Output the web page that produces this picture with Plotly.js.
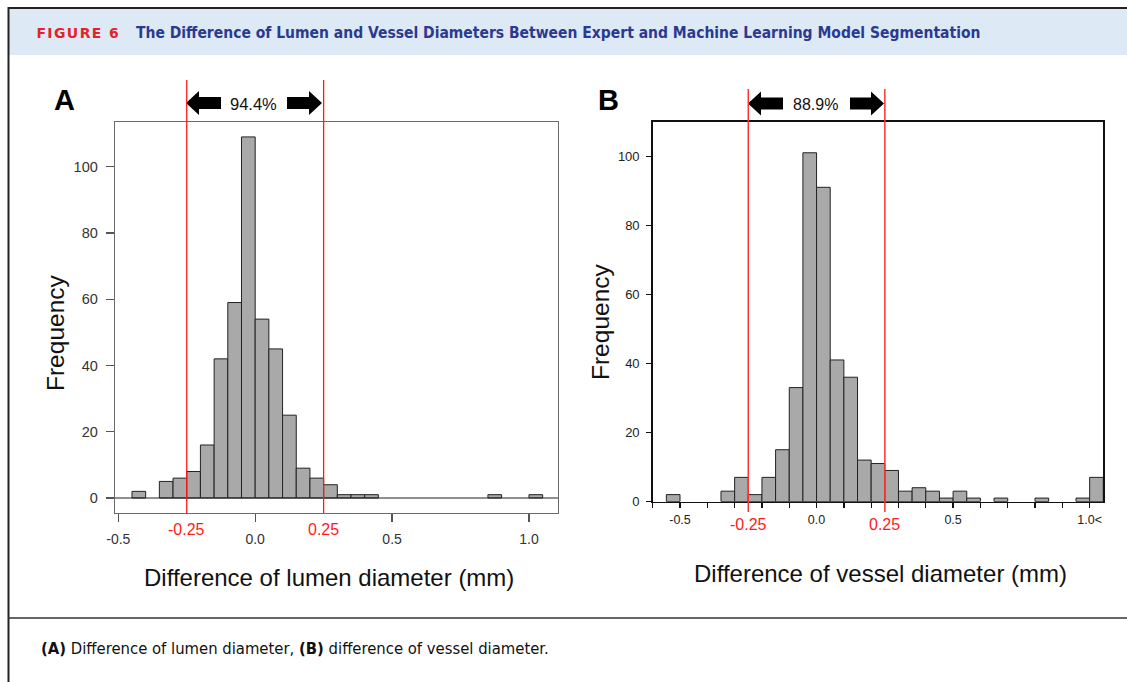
<!DOCTYPE html>
<html>
<head>
<meta charset="utf-8">
<script src="https://cdn.plot.ly/plotly-3.0.1.min.js"></script>
<style>
html,body{margin:0;padding:0;background:#fff;}
#chart{width:1127px;height:682px;}
</style>
</head>
<body>
<div id="chart"></div>
<script>
// ---- data ----
const binStartA = [-0.45, -0.35, -0.30, -0.25, -0.20, -0.15, -0.10, -0.05, 0.00, 0.05, 0.10, 0.15, 0.20, 0.25, 0.30, 0.35, 0.40, 0.85, 1.00];
const countsA   = [2, 5, 6, 8, 16, 42, 59, 109, 54, 45, 25, 9, 6, 4, 1, 1, 1, 1, 1];
const binStartB = [-0.55, -0.35, -0.30, -0.25, -0.20, -0.15, -0.10, -0.05, 0.00, 0.05, 0.10, 0.15, 0.20, 0.25, 0.30, 0.35, 0.40, 0.45, 0.50, 0.55, 0.65, 0.80, 0.95, 1.00];
const countsB   = [2, 3, 7, 2, 7, 15, 33, 101, 91, 41, 36, 12, 11, 9, 3, 4, 3, 1, 3, 1, 1, 1, 1, 7];
const binWidth = 0.05;
const limits = [-0.25, 0.25];
const limitLabels = ['-0.25', '0.25'];
const pctA = '94.4%';
const pctB = '88.9%';
const xTickValsA = [-0.5, 0, 0.5, 1.0];
const xTickTextA = ['-0.5', '0.0', '0.5', '1.0'];
const xTickValsB = [-0.6, -0.5, -0.4, -0.3, -0.2, -0.1, 0, 0.1, 0.2, 0.3, 0.4, 0.5, 0.6, 0.7, 0.8, 0.9, 1.0];
const xTickTextB = ['', '-0.5', '', '', '', '', '0.0', '', '', '', '', '0.5', '', '', '', '', '1.0<'];
const yTickVals = [0, 20, 40, 60, 80, 100];
const figLabel = 'FIGURE 6';
const figTitle = 'The Difference of Lumen and Vessel Diameters Between Expert and Machine Learning Model Segmentation';
const captionText = '<b>(A)</b> Difference of lumen diameter, <b>(B)</b> difference of vessel diameter.';
const xTitleA = 'Difference of lumen diameter (mm)';
const xTitleB = 'Difference of vessel diameter (mm)';
const yTitle = 'Frequency';

// ---- helpers (pixel -> paper) ----
const W = 1127, H = 682;
const px = x => x / W;
const py = y => 1 - y / H;
const ARIAL = 'Liberation Sans, Arial, sans-serif';
const COND = 'DejaVu Sans Condensed, Liberation Sans Narrow, DejaVu Sans, sans-serif';

function arrowPath(pts){
  return 'M ' + pts.map(p => px(p[0]).toFixed(5) + ',' + py(p[1]).toFixed(5)).join(' L ') + ' Z';
}
function leftArrow(tip, headBack, shaftEnd, yc){
  return arrowPath([[tip,yc],[headBack,yc-12],[headBack,yc-6],[shaftEnd,yc-6],[shaftEnd,yc+6],[headBack,yc+6],[headBack,yc+12]]);
}
function rightArrow(shaftStart, headBack, tip, yc){
  return arrowPath([[shaftStart,yc-6],[headBack,yc-6],[headBack,yc-12],[tip,yc],[headBack,yc+12],[headBack,yc+6],[shaftStart,yc+6]]);
}

const barStyle = {color: '#a9a9a9', line: {color: '#222', width: 1}};
const traces = [
  {type: 'bar', x: binStartA, y: countsA, width: binWidth, offset: 0, marker: barStyle, xaxis: 'x', yaxis: 'y', hoverinfo: 'skip'},
  {type: 'bar', x: binStartB, y: countsB, width: binWidth, offset: 0, marker: barStyle, xaxis: 'x2', yaxis: 'y2', hoverinfo: 'skip'}
];

const shapes = [
  // header band + frame
  {type: 'rect', xref: 'paper', yref: 'paper', x0: px(9), x1: 1, y0: py(55), y1: py(9), fillcolor: '#dde9f5', line: {width: 0}, layer: 'below'},
  {type: 'line', xref: 'paper', yref: 'paper', x0: px(8), x1: 1, y0: py(8), y1: py(8), line: {color: '#222', width: 2}},
  {type: 'line', xref: 'paper', yref: 'paper', x0: px(8.5), x1: px(8.5), y0: 0, y1: py(7), line: {color: '#222', width: 2}},
  {type: 'line', xref: 'paper', yref: 'paper', x0: px(8), x1: 1, y0: py(618), y1: py(618), line: {color: '#333', width: 1.5}},
  // baseline A
  {type: 'line', xref: 'x domain', yref: 'y', x0: 0, x1: 1, y0: 0, y1: 0, line: {color: '#222', width: 1.2}},
  // arrows
  {type: 'path', xref: 'paper', yref: 'paper', path: leftArrow(186, 199, 221, 103), fillcolor: '#000', line: {width: 0}},
  {type: 'path', xref: 'paper', yref: 'paper', path: rightArrow(287, 309, 322, 103), fillcolor: '#000', line: {width: 0}},
  {type: 'path', xref: 'paper', yref: 'paper', path: leftArrow(748, 761, 783, 103.5), fillcolor: '#000', line: {width: 0}},
  {type: 'path', xref: 'paper', yref: 'paper', path: rightArrow(850, 871, 884, 103.5), fillcolor: '#000', line: {width: 0}}
];
limits.forEach(v => {
  shapes.push({type: 'line', xref: 'x', yref: 'paper', x0: v, x1: v, y0: py(513), y1: py(80), line: {color: '#ff1a1a', width: 1.3}});
  shapes.push({type: 'line', xref: 'x2', yref: 'paper', x0: v, x1: v, y0: py(512), y1: py(89), line: {color: '#ff3333', width: 1.5}});
});

const annotations = [
  {xref: 'paper', yref: 'paper', x: px(40), y: py(33), xanchor: 'left', yanchor: 'middle', showarrow: false,
   text: '<b>' + figLabel + '</b>', font: {family: 'DejaVu Sans, sans-serif', size: 14, color: '#e3232b'}},
  {xref: 'paper', yref: 'paper', x: px(134), y: py(33), xanchor: 'left', yanchor: 'middle', showarrow: false,
   text: '<b>' + figTitle + '</b>', font: {family: COND, size: 15.5, color: '#2b3990'}},
  {xref: 'paper', yref: 'paper', x: px(39), y: py(648), xanchor: 'left', yanchor: 'middle', showarrow: false,
   text: captionText, font: {family: COND, size: 16.5, color: '#111'}},
  {xref: 'paper', yref: 'paper', x: px(64), y: py(100), xanchor: 'center', yanchor: 'middle', showarrow: false,
   text: '<b>A</b>', font: {family: ARIAL, size: 29, color: '#000'}},
  {xref: 'paper', yref: 'paper', x: px(608), y: py(100), xanchor: 'center', yanchor: 'middle', showarrow: false,
   text: '<b>B</b>', font: {family: ARIAL, size: 29, color: '#000'}},
  {xref: 'paper', yref: 'paper', x: px(253.5), y: py(104), xanchor: 'center', yanchor: 'middle', showarrow: false,
   text: pctA, font: {family: ARIAL, size: 16.5, color: '#111'}},
  {xref: 'paper', yref: 'paper', x: px(815.5), y: py(105), xanchor: 'center', yanchor: 'middle', showarrow: false,
   text: pctB, font: {family: ARIAL, size: 16, color: '#111'}},
  {xref: 'paper', yref: 'paper', x: px(55), y: py(333), xanchor: 'center', yanchor: 'middle', showarrow: false, textangle: -90,
   text: yTitle, font: {family: ARIAL, size: 24.5, color: '#111'}},
  {xref: 'paper', yref: 'paper', x: px(600), y: py(322), xanchor: 'center', yanchor: 'middle', showarrow: false, textangle: -90,
   text: yTitle, font: {family: ARIAL, size: 24.5, color: '#111'}},
  {xref: 'paper', yref: 'paper', x: px(329), y: py(577), xanchor: 'center', yanchor: 'middle', showarrow: false,
   text: xTitleA, font: {family: ARIAL, size: 24, color: '#111'}},
  {xref: 'paper', yref: 'paper', x: px(880), y: py(573), xanchor: 'center', yanchor: 'middle', showarrow: false,
   text: xTitleB, font: {family: ARIAL, size: 24, color: '#111'}}
];
limits.forEach((v, i) => {
  annotations.push({xref: 'x', yref: 'paper', x: v, y: py(529), xanchor: 'center', yanchor: 'middle', showarrow: false,
    text: limitLabels[i], font: {family: ARIAL, size: 16, color: '#ff1a1a'}});
  annotations.push({xref: 'x2', yref: 'paper', x: v, y: py(524), xanchor: 'center', yanchor: 'middle', showarrow: false,
    text: limitLabels[i], font: {family: ARIAL, size: 16, color: '#ff1a1a'}});
});

const layout = {
  width: W, height: H,
  margin: {l: 0, r: 0, t: 0, b: 0},
  paper_bgcolor: '#fff', plot_bgcolor: 'rgba(0,0,0,0)',
  showlegend: false, bargap: 0,
  xaxis: {domain: [px(115), px(558)], range: [-0.512, 1.106], anchor: 'y',
    tickmode: 'array', tickvals: xTickValsA, ticktext: xTickTextA,
    ticks: 'outside', ticklen: 8, tickwidth: 1.2, tickcolor: '#555',
    showline: true, linecolor: '#6a6a6a', linewidth: 1.3, mirror: true,
    showgrid: false, zeroline: false, ticklabelstandoff: 5,
    tickfont: {family: ARIAL, size: 14, color: '#333'}},
  yaxis: {domain: [py(512.7), py(122)], range: [-4.44, 113.5], anchor: 'x',
    tickmode: 'array', tickvals: yTickVals,
    ticks: 'outside', ticklen: 8, tickwidth: 1.2, tickcolor: '#555',
    showline: true, linecolor: '#6a6a6a', linewidth: 1.3, mirror: true,
    showgrid: false, zeroline: false, ticklabelstandoff: 5,
    tickfont: {family: ARIAL, size: 14.5, color: '#333'}},
  xaxis2: {domain: [px(652.7), px(1103.3)], range: [-0.6, 1.05], anchor: 'y2',
    tickmode: 'array', tickvals: xTickValsB, ticktext: xTickTextB,
    ticks: 'outside', ticklen: 5, tickwidth: 1.3, tickcolor: '#111',
    showline: true, linecolor: '#111', linewidth: 1.5, mirror: true,
    showgrid: false, zeroline: false, ticklabelstandoff: 1,
    tickfont: {family: ARIAL, size: 12.5, color: '#222'}},
  yaxis2: {domain: [py(501.7), py(121.7)], range: [-0.05, 110], anchor: 'x2',
    tickmode: 'array', tickvals: yTickVals,
    ticks: 'outside', ticklen: 5, tickwidth: 1.3, tickcolor: '#111',
    showline: true, linecolor: '#111', linewidth: 1.5, mirror: true,
    showgrid: false, zeroline: false, ticklabelstandoff: 4,
    tickfont: {family: ARIAL, size: 13, color: '#222'}},
  shapes: shapes,
  annotations: annotations
};

Plotly.newPlot('chart', traces, layout, {staticPlot: true, displayModeBar: false}).then(gd => {
  gd.querySelectorAll('text.annotation-text').forEach(t => {
    if (t.textContent === figLabel) t.setAttribute('letter-spacing', '1.4');
  });
});
</script>
</body>
</html>
